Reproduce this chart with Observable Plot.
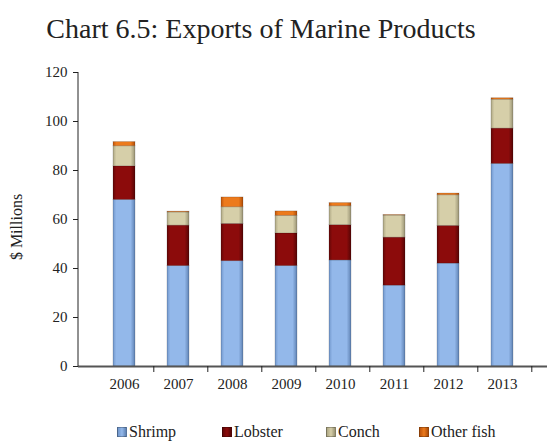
<!DOCTYPE html>
<html>
<head>
<meta charset="utf-8">
<script src="https://cdn.jsdelivr.net/npm/d3@7"></script>
<script src="https://cdn.jsdelivr.net/npm/@observablehq/plot@0.6"></script>
<style>
  body { margin: 0; background: #fff; width: 550px; height: 443px; overflow: hidden; font-family: "Liberation Serif", "DejaVu Serif", serif; color: #222; }
  #title { height: 56px; line-height: 58px; text-align: center; font-size: 28px; color: #222; padding-right: 28px; }
  #chart { height: 349px; }
  #chart svg text { font-family: "Liberation Serif", "DejaVu Serif", serif !important; }
  #legend { position: relative; height: 38px; font-size: 16px; }
  .item { position: absolute; top: 18px; display: flex; align-items: center; }
  .sw { width: 8px; height: 8px; margin-right: 2px; border: 1px solid rgba(0,0,0,0.25); }
</style>
</head>
<body>
<div id="title">Chart 6.5: Exports of Marine Products</div>
<div id="chart"></div>
<div id="legend"></div>
<script>
const years = ["2006","2007","2008","2009","2010","2011","2012","2013"];
const series = ["Shrimp","Lobster","Conch","Other fish"];
const shrimp = [68, 41, 43, 41, 43.3, 33, 42, 82.7];
const lobster = [13.7, 16.5, 15.2, 13.3, 14.4, 19.6, 15.4, 14.4];
const conch = [8.2, 5.4, 6.8, 7.2, 7.7, 9, 12.5, 11.8];
const otherFish = [1.7, 0.3, 4, 1.8, 1.3, 0.2, 0.7, 0.6];
const yTicks = [0, 20, 40, 60, 80, 100, 120];
const colors = {
  "Shrimp": ["#7197cc", "#93b8ea", "#5f82b3"],
  "Lobster": ["#640707", "#8c0b0b", "#560505"],
  "Conch": ["#aea784", "#d6cfa9", "#9a9475"],
  "Other fish": ["#c0560c", "#ec7a1c", "#b04e08"]
};
const ids = {"Shrimp": "gShrimp", "Lobster": "gLobster", "Conch": "gConch", "Other fish": "gOther"};

const valuesBySeries = [shrimp, lobster, conch, otherFish];
const data = [];
series.forEach((s, i) => years.forEach((y, j) => data.push({year: y, series: s, value: valuesBySeries[i][j]})));

const serif = "'Liberation Serif', serif";
const plot = Plot.plot({
  width: 550,
  height: 349,
  marginTop: 16,
  marginBottom: 39,
  marginLeft: 78,
  marginRight: 3,
  style: {fontFamily: serif, fontSize: "15px", color: "#222", background: "#fff"},
  x: {domain: years, padding: 0.6, label: null},
  y: {domain: [0, 120], label: null},
  color: {domain: series, range: series.map(s => `url(#${ids[s]})`)},
  marks: [
    Plot.barY(data, {x: "year", y: "value", fill: "series", order: series, stroke: "rgba(0,0,0,0.2)", strokeWidth: 0.8}),
    Plot.ruleY([0], {stroke: "#555", strokeWidth: 2}),
    Plot.axisY({ticks: yTicks, tickSize: 5, tickPadding: 6, fontSize: 15, fontFamily: serif, stroke: "#222"}),
    Plot.axisX({tickSize: 6, tickFormat: () => "", dx: 29.3, stroke: "#222"}),
    Plot.axisX({tickSize: 0, tickPadding: 12, fontSize: 15, fontFamily: serif})
  ]
});

// gradients
const ns = "http://www.w3.org/2000/svg";
const defs = document.createElementNS(ns, "defs");
series.forEach(s => {
  const g = document.createElementNS(ns, "linearGradient");
  g.setAttribute("id", ids[s]);
  g.setAttribute("x1", "0"); g.setAttribute("x2", "1"); g.setAttribute("y1", "0"); g.setAttribute("y2", "0");
  [[0, colors[s][0]], [0.15, colors[s][1]], [0.8, colors[s][1]], [1, colors[s][2]]].forEach(([o, c]) => {
    const st = document.createElementNS(ns, "stop");
    st.setAttribute("offset", o); st.setAttribute("stop-color", c);
    g.appendChild(st);
  });
  defs.appendChild(g);
});
plot.insertBefore(defs, plot.firstChild);

// y axis line and label
const yLine = document.createElementNS(ns, "line");
yLine.setAttribute("x1", 78); yLine.setAttribute("x2", 78);
yLine.setAttribute("y1", 16); yLine.setAttribute("y2", 310);
yLine.setAttribute("stroke", "#222");
plot.appendChild(yLine);
const yl = document.createElementNS(ns, "text");
yl.setAttribute("transform", "translate(22,171) rotate(-90)");
yl.setAttribute("text-anchor", "middle");
yl.setAttribute("font-size", "16");
yl.setAttribute("fill", "#222");
yl.textContent = "$ Millions";
plot.appendChild(yl);

document.getElementById("chart").appendChild(plot);

// legend
const legend = document.getElementById("legend");
const lefts = [117, 222, 326, 419];
series.forEach((s, i) => {
  const it = document.createElement("div");
  it.className = "item";
  it.style.left = lefts[i] + "px";
  const sw = document.createElement("span");
  sw.className = "sw";
  sw.style.background = `linear-gradient(to right, ${colors[s][0]}, ${colors[s][1]}, ${colors[s][2]})`;
  const tx = document.createElement("span");
  tx.textContent = s;
  it.appendChild(sw); it.appendChild(tx);
  legend.appendChild(it);
});
</script>
</body>
</html>
